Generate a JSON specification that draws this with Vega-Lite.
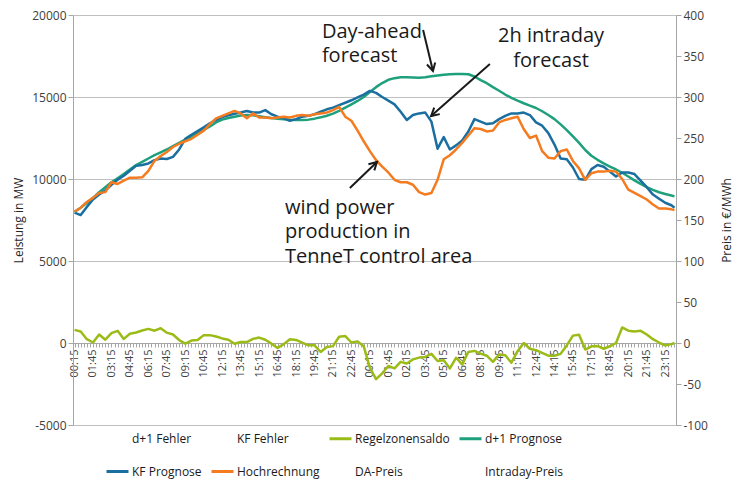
{
  "$schema": "https://vega.github.io/schema/vega-lite/v6.json",
  "width": 603,
  "height": 410,
  "autosize": "none",
  "padding": {"left": 73, "top": 15, "right": 58, "bottom": 57},
  "config": {
    "font": "Open Sans",
    "view": {"stroke": null},
    "axis": {"labelColor": "#404040", "titleColor": "#262626", "titleFontWeight": "normal", "domainColor": "#A6A6A6", "tickColor": "#A6A6A6"},
    "axisX": {"labelOverlap": false, "labelFlush": false, "labelBound": false}
  },
  "layer": [
    {
      "layer": [
        {
          "data": {"values": [
            {"i":0,"d+1 Prognose":8000,"KF Prognose":7950,"Hochrechnung":8000,"Regelzonensaldo":800},
            {"i":2,"d+1 Prognose":8250,"KF Prognose":7800,"Hochrechnung":8250,"Regelzonensaldo":700},
            {"i":4,"d+1 Prognose":8550,"KF Prognose":8300,"Hochrechnung":8600,"Regelzonensaldo":230},
            {"i":6,"d+1 Prognose":8850,"KF Prognose":8750,"Hochrechnung":8850,"Regelzonensaldo":30},
            {"i":8,"d+1 Prognose":9200,"KF Prognose":9050,"Hochrechnung":9150,"Regelzonensaldo":520},
            {"i":10,"d+1 Prognose":9500,"KF Prognose":9300,"Hochrechnung":9200,"Regelzonensaldo":200},
            {"i":12,"d+1 Prognose":9800,"KF Prognose":9650,"Hochrechnung":9800,"Regelzonensaldo":600},
            {"i":14,"d+1 Prognose":10050,"KF Prognose":9950,"Hochrechnung":9700,"Regelzonensaldo":740},
            {"i":16,"d+1 Prognose":10300,"KF Prognose":10200,"Hochrechnung":9900,"Regelzonensaldo":250},
            {"i":18,"d+1 Prognose":10580,"KF Prognose":10500,"Hochrechnung":10080,"Regelzonensaldo":560},
            {"i":20,"d+1 Prognose":10850,"KF Prognose":10800,"Hochrechnung":10080,"Regelzonensaldo":640},
            {"i":22,"d+1 Prognose":11050,"KF Prognose":10850,"Hochrechnung":10100,"Regelzonensaldo":760},
            {"i":24,"d+1 Prognose":11250,"KF Prognose":10950,"Hochrechnung":10500,"Regelzonensaldo":860},
            {"i":26,"d+1 Prognose":11450,"KF Prognose":11150,"Hochrechnung":11100,"Regelzonensaldo":750},
            {"i":28,"d+1 Prognose":11620,"KF Prognose":11250,"Hochrechnung":11400,"Regelzonensaldo":900},
            {"i":30,"d+1 Prognose":11800,"KF Prognose":11220,"Hochrechnung":11650,"Regelzonensaldo":630},
            {"i":32,"d+1 Prognose":12000,"KF Prognose":11350,"Hochrechnung":11950,"Regelzonensaldo":520},
            {"i":34,"d+1 Prognose":12200,"KF Prognose":11800,"Hochrechnung":12150,"Regelzonensaldo":180},
            {"i":36,"d+1 Prognose":12400,"KF Prognose":12450,"Hochrechnung":12300,"Regelzonensaldo":-40},
            {"i":38,"d+1 Prognose":12600,"KF Prognose":12700,"Hochrechnung":12450,"Regelzonensaldo":150},
            {"i":40,"d+1 Prognose":12800,"KF Prognose":12920,"Hochrechnung":12700,"Regelzonensaldo":180},
            {"i":42,"d+1 Prognose":13000,"KF Prognose":13150,"Hochrechnung":12950,"Regelzonensaldo":480},
            {"i":44,"d+1 Prognose":13200,"KF Prognose":13400,"Hochrechnung":13350,"Regelzonensaldo":480},
            {"i":46,"d+1 Prognose":13450,"KF Prognose":13600,"Hochrechnung":13700,"Regelzonensaldo":400},
            {"i":48,"d+1 Prognose":13620,"KF Prognose":13780,"Hochrechnung":13850,"Regelzonensaldo":280},
            {"i":50,"d+1 Prognose":13720,"KF Prognose":13880,"Hochrechnung":14000,"Regelzonensaldo":200},
            {"i":52,"d+1 Prognose":13800,"KF Prognose":13980,"Hochrechnung":14150,"Regelzonensaldo":-50},
            {"i":54,"d+1 Prognose":13870,"KF Prognose":14050,"Hochrechnung":14000,"Regelzonensaldo":60},
            {"i":56,"d+1 Prognose":13900,"KF Prognose":14150,"Hochrechnung":13700,"Regelzonensaldo":60},
            {"i":58,"d+1 Prognose":13880,"KF Prognose":14050,"Hochrechnung":14000,"Regelzonensaldo":250},
            {"i":60,"d+1 Prognose":13830,"KF Prognose":14050,"Hochrechnung":13750,"Regelzonensaldo":330},
            {"i":62,"d+1 Prognose":13770,"KF Prognose":14200,"Hochrechnung":13750,"Regelzonensaldo":200},
            {"i":64,"d+1 Prognose":13720,"KF Prognose":13950,"Hochrechnung":13700,"Regelzonensaldo":-40},
            {"i":66,"d+1 Prognose":13680,"KF Prognose":13800,"Hochrechnung":13750,"Regelzonensaldo":-300},
            {"i":68,"d+1 Prognose":13640,"KF Prognose":13700,"Hochrechnung":13800,"Regelzonensaldo":-70},
            {"i":70,"d+1 Prognose":13610,"KF Prognose":13550,"Hochrechnung":13750,"Regelzonensaldo":230},
            {"i":72,"d+1 Prognose":13600,"KF Prognose":13650,"Hochrechnung":13850,"Regelzonensaldo":190},
            {"i":74,"d+1 Prognose":13600,"KF Prognose":13800,"Hochrechnung":13900,"Regelzonensaldo":20},
            {"i":76,"d+1 Prognose":13620,"KF Prognose":13850,"Hochrechnung":13850,"Regelzonensaldo":-140},
            {"i":78,"d+1 Prognose":13680,"KF Prognose":13950,"Hochrechnung":13950,"Regelzonensaldo":-140},
            {"i":80,"d+1 Prognose":13760,"KF Prognose":14100,"Hochrechnung":14000,"Regelzonensaldo":-550},
            {"i":82,"d+1 Prognose":13860,"KF Prognose":14250,"Hochrechnung":14050,"Regelzonensaldo":-250},
            {"i":84,"d+1 Prognose":13990,"KF Prognose":14350,"Hochrechnung":14200,"Regelzonensaldo":-190},
            {"i":86,"d+1 Prognose":14150,"KF Prognose":14500,"Hochrechnung":14400,"Regelzonensaldo":380},
            {"i":88,"d+1 Prognose":14350,"KF Prognose":14650,"Hochrechnung":13800,"Regelzonensaldo":420},
            {"i":90,"d+1 Prognose":14550,"KF Prognose":14800,"Hochrechnung":13550,"Regelzonensaldo":30},
            {"i":92,"d+1 Prognose":14760,"KF Prognose":14980,"Hochrechnung":12950,"Regelzonensaldo":100},
            {"i":94,"d+1 Prognose":15000,"KF Prognose":15150,"Hochrechnung":12300,"Regelzonensaldo":-200},
            {"i":96,"d+1 Prognose":15300,"KF Prognose":15370,"Hochrechnung":11700,"Regelzonensaldo":-1500},
            {"i":98,"d+1 Prognose":15600,"KF Prognose":15250,"Hochrechnung":11150,"Regelzonensaldo":-2200},
            {"i":100,"d+1 Prognose":15850,"KF Prognose":15000,"Hochrechnung":10750,"Regelzonensaldo":-1850},
            {"i":102,"d+1 Prognose":16050,"KF Prognose":14780,"Hochrechnung":10400,"Regelzonensaldo":-1400},
            {"i":104,"d+1 Prognose":16150,"KF Prognose":14550,"Hochrechnung":9950,"Regelzonensaldo":-1550},
            {"i":106,"d+1 Prognose":16200,"KF Prognose":14100,"Hochrechnung":9800,"Regelzonensaldo":-1150},
            {"i":108,"d+1 Prognose":16200,"KF Prognose":13600,"Hochrechnung":9800,"Regelzonensaldo":-1250},
            {"i":110,"d+1 Prognose":16190,"KF Prognose":13900,"Hochrechnung":9650,"Regelzonensaldo":-1000},
            {"i":112,"d+1 Prognose":16180,"KF Prognose":14000,"Hochrechnung":9200,"Regelzonensaldo":-890},
            {"i":114,"d+1 Prognose":16200,"KF Prognose":14050,"Hochrechnung":9050,"Regelzonensaldo":-850},
            {"i":116,"d+1 Prognose":16260,"KF Prognose":13500,"Hochrechnung":9150,"Regelzonensaldo":-660},
            {"i":118,"d+1 Prognose":16310,"KF Prognose":11850,"Hochrechnung":9950,"Regelzonensaldo":-1100},
            {"i":120,"d+1 Prognose":16350,"KF Prognose":12550,"Hochrechnung":11200,"Regelzonensaldo":-1050},
            {"i":122,"d+1 Prognose":16390,"KF Prognose":11800,"Hochrechnung":11450,"Regelzonensaldo":-1550},
            {"i":124,"d+1 Prognose":16400,"KF Prognose":12050,"Hochrechnung":11800,"Regelzonensaldo":-900},
            {"i":126,"d+1 Prognose":16400,"KF Prognose":12350,"Hochrechnung":12200,"Regelzonensaldo":-1300},
            {"i":128,"d+1 Prognose":16390,"KF Prognose":12900,"Hochrechnung":12650,"Regelzonensaldo":-550},
            {"i":130,"d+1 Prognose":16250,"KF Prognose":13650,"Hochrechnung":13100,"Regelzonensaldo":-480},
            {"i":132,"d+1 Prognose":16030,"KF Prognose":13500,"Hochrechnung":13050,"Regelzonensaldo":-650},
            {"i":134,"d+1 Prognose":15840,"KF Prognose":13350,"Hochrechnung":12900,"Regelzonensaldo":-775},
            {"i":136,"d+1 Prognose":15600,"KF Prognose":13400,"Hochrechnung":12950,"Regelzonensaldo":-1150},
            {"i":138,"d+1 Prognose":15380,"KF Prognose":13650,"Hochrechnung":13450,"Regelzonensaldo":-700},
            {"i":140,"d+1 Prognose":15150,"KF Prognose":13850,"Hochrechnung":13600,"Regelzonensaldo":-750},
            {"i":142,"d+1 Prognose":14950,"KF Prognose":14000,"Hochrechnung":13700,"Regelzonensaldo":-1200},
            {"i":144,"d+1 Prognose":14780,"KF Prognose":14000,"Hochrechnung":13800,"Regelzonensaldo":-500},
            {"i":146,"d+1 Prognose":14620,"KF Prognose":14050,"Hochrechnung":13050,"Regelzonensaldo":0},
            {"i":148,"d+1 Prognose":14470,"KF Prognose":13900,"Hochrechnung":12500,"Regelzonensaldo":-350},
            {"i":150,"d+1 Prognose":14330,"KF Prognose":13450,"Hochrechnung":12650,"Regelzonensaldo":-440},
            {"i":152,"d+1 Prognose":14130,"KF Prognose":13250,"Hochrechnung":11700,"Regelzonensaldo":-600},
            {"i":154,"d+1 Prognose":13900,"KF Prognose":12800,"Hochrechnung":11300,"Regelzonensaldo":-775},
            {"i":156,"d+1 Prognose":13650,"KF Prognose":12100,"Hochrechnung":11250,"Regelzonensaldo":-775},
            {"i":158,"d+1 Prognose":13330,"KF Prognose":11250,"Hochrechnung":11700,"Regelzonensaldo":-660},
            {"i":160,"d+1 Prognose":12980,"KF Prognose":11200,"Hochrechnung":11800,"Regelzonensaldo":-150},
            {"i":162,"d+1 Prognose":12600,"KF Prognose":10700,"Hochrechnung":11100,"Regelzonensaldo":450},
            {"i":164,"d+1 Prognose":12200,"KF Prognose":10000,"Hochrechnung":10650,"Regelzonensaldo":500},
            {"i":166,"d+1 Prognose":11770,"KF Prognose":9950,"Hochrechnung":9950,"Regelzonensaldo":-400},
            {"i":168,"d+1 Prognose":11420,"KF Prognose":10600,"Hochrechnung":10350,"Regelzonensaldo":-200},
            {"i":170,"d+1 Prognose":11170,"KF Prognose":10850,"Hochrechnung":10450,"Regelzonensaldo":-180},
            {"i":172,"d+1 Prognose":10950,"KF Prognose":10750,"Hochrechnung":10450,"Regelzonensaldo":-350},
            {"i":174,"d+1 Prognose":10760,"KF Prognose":10450,"Hochrechnung":10500,"Regelzonensaldo":-200},
            {"i":176,"d+1 Prognose":10580,"KF Prognose":10150,"Hochrechnung":10450,"Regelzonensaldo":0},
            {"i":178,"d+1 Prognose":10380,"KF Prognose":10400,"Hochrechnung":10000,"Regelzonensaldo":950},
            {"i":180,"d+1 Prognose":10150,"KF Prognose":10400,"Hochrechnung":9350,"Regelzonensaldo":750},
            {"i":182,"d+1 Prognose":9920,"KF Prognose":10300,"Hochrechnung":9150,"Regelzonensaldo":700},
            {"i":184,"d+1 Prognose":9700,"KF Prognose":9900,"Hochrechnung":8950,"Regelzonensaldo":740},
            {"i":186,"d+1 Prognose":9500,"KF Prognose":9500,"Hochrechnung":8750,"Regelzonensaldo":520},
            {"i":188,"d+1 Prognose":9340,"KF Prognose":9050,"Hochrechnung":8450,"Regelzonensaldo":235},
            {"i":190,"d+1 Prognose":9190,"KF Prognose":8800,"Hochrechnung":8200,"Regelzonensaldo":30},
            {"i":192,"d+1 Prognose":9090,"KF Prognose":8550,"Hochrechnung":8200,"Regelzonensaldo":-150},
            {"i":194,"d+1 Prognose":8990,"KF Prognose":8400,"Hochrechnung":8150,"Regelzonensaldo":-70},
            {"i":195,"d+1 Prognose":8940,"KF Prognose":8250,"Hochrechnung":8100,"Regelzonensaldo":0}
          ]},
          "transform": [{"fold": ["Regelzonensaldo", "d+1 Prognose", "KF Prognose", "Hochrechnung"], "as": ["Serie", "MW"]}],
          "mark": {"type": "line", "strokeWidth": 2.5, "strokeJoin": "round"},
          "encoding": {
            "x": {
              "field": "i", "type": "quantitative",
              "scale": {"domain": [-0.5, 195.5], "nice": false, "zero": false},
              "axis": {
                "title": null,
                "values": [0,1,2,3,4,5,6,7,8,9,10,11,12,13,14,15,16,17,18,19,20,21,22,23,24,25,26,27,28,29,30,31,32,33,34,35,36,37,38,39,40,41,42,43,44,45,46,47,48,49,50,51,52,53,54,55,56,57,58,59,60,61,62,63,64,65,66,67,68,69,70,71,72,73,74,75,76,77,78,79,80,81,82,83,84,85,86,87,88,89,90,91,92,93,94,95,96,97,98,99,100,101,102,103,104,105,106,107,108,109,110,111,112,113,114,115,116,117,118,119,120,121,122,123,124,125,126,127,128,129,130,131,132,133,134,135,136,137,138,139,140,141,142,143,144,145,146,147,148,149,150,151,152,153,154,155,156,157,158,159,160,161,162,163,164,165,166,167,168,169,170,171,172,173,174,175,176,177,178,179,180,181,182,183,184,185,186,187,188,189,190,191,192,193,194,195],
                "tickCount": 400,
                "labelExpr": "datum.value % 6 == 0 && datum.value <= 192 ? ['00:15','01:45','03:15','04:45','06:15','07:45','09:15','10:45','12:15','13:45','15:15','16:45','18:15','19:45','21:15','22:45','00:15','01:45','02:15','03:45','05:15','06:45','08:15','09:45','11:15','12:45','14:15','15:45','17:15','18:45','20:15','21:45','23:15'][datum.value / 6] : ''",
                "labelAngle": -90,
                "labelOverlap": false,
                "labelFlush": false,
                "labelBound": false,
                "labelFontSize": 11,
                "labelPadding": 2,
                "offset": -82,
                "tickSize": 4,
                "tickColor": "#A6A6A6",
                "grid": false
              }
            },
            "y": {
              "field": "MW", "type": "quantitative",
              "scale": {"domain": [-5000, 20000], "nice": false},
              "axis": {
                "title": "Leistung in MW",
                "values": [-5000, 0, 5000, 10000, 15000, 20000],
                "labelExpr": "'' + datum.value",
                "grid": true,
                "gridColor": "#BFBFBF",
                "tickSize": 5,
                "labelFontSize": 12,
                "titleFontSize": 12,
                "titlePadding": 6
              }
            },
            "color": {
              "field": "Serie", "type": "nominal",
              "scale": {
                "domain": ["d+1 Fehler", "KF Fehler", "Regelzonensaldo", "d+1 Prognose", "KF Prognose", "Hochrechnung", "DA-Preis", "Intraday-Preis"],
                "range": ["#FFFFFF", "#FFFFFF", "#9BBB17", "#1FA07C", "#1B6FA0", "#F47B20", "#FFFFFF", "#FFFFFF"]
              },
              "legend": {
                "orient": "none", "legendX": 32, "legendY": 411,
                "direction": "horizontal", "columns": 4, "title": null,
                "symbolType": "stroke", "symbolSize": 484, "symbolStrokeWidth": 3,
                "labelFontSize": 12, "labelColor": "#1a1a1a", "labelOffset": 2, "labelLimit": 200,
                "rowPadding": 14, "columnPadding": 3
              }
            }
          }
        },
        {
          "data": {"values": [
            {"x": 80.4, "y": 18600, "t": "Day-ahead\nforecast"},
            {"x": 68.4, "y": 7870, "t": "wind power\nproduction in\nTenneT control area"}
          ]},
          "mark": {"type": "text", "align": "left", "baseline": "alphabetic", "fontSize": 20, "lineHeight": 24.5, "lineBreak": "\n", "color": "#1a1a1a"},
          "encoding": {
            "x": {"field": "x", "type": "quantitative", "scale": {"domain": [-0.5, 195.5], "nice": false, "zero": false}},
            "y": {"field": "y", "type": "quantitative", "scale": {"domain": [-5000, 20000], "nice": false}},
            "text": {"field": "t"}
          }
        },
        {
          "data": {"values": [
            {"x": 154.9, "y": 18330, "t": "2h intraday\nforecast"}
          ]},
          "mark": {"type": "text", "align": "center", "baseline": "alphabetic", "fontSize": 20, "lineHeight": 25, "lineBreak": "\n", "color": "#1a1a1a"},
          "encoding": {
            "x": {"field": "x", "type": "quantitative", "scale": {"domain": [-0.5, 195.5], "nice": false, "zero": false}},
            "y": {"field": "y", "type": "quantitative", "scale": {"domain": [-5000, 20000], "nice": false}},
            "text": {"field": "t"}
          }
        },
        {
          "data": {"values": [
            {"a": 1, "x": 113.3, "y": 19085, "x2": 116.5, "y2": 16585},
            {"a": 2, "x": 135.0, "y": 17010, "x2": 115.9, "y2": 13840},
            {"a": 3, "x": 89.5, "y": 9450, "x2": 98.3, "y2": 11040}
          ]},
          "layer": [
            {
              "mark": {"type": "rule", "strokeWidth": 2, "color": "#1a1a1a"},
              "encoding": {
                "x": {"field": "x", "type": "quantitative", "scale": {"domain": [-0.5, 195.5], "nice": false, "zero": false}},
                "y": {"field": "y", "type": "quantitative", "scale": {"domain": [-5000, 20000], "nice": false}},
                "x2": {"field": "x2"},
                "y2": {"field": "y2"}
              }
            },
            {
              "transform": [{"filter": "datum.a == 1"}],
              "mark": {"type": "point", "shape": "M-0.6,1.1L0,0L0.6,1.1", "angle": 166, "size": 200, "filled": false, "stroke": "#1a1a1a", "strokeWidth": 2, "opacity": 1},
              "encoding": {
                "x": {"field": "x2", "type": "quantitative", "scale": {"domain": [-0.5, 195.5], "nice": false, "zero": false}},
                "y": {"field": "y2", "type": "quantitative", "scale": {"domain": [-5000, 20000], "nice": false}}
              }
            },
            {
              "transform": [{"filter": "datum.a == 2"}],
              "mark": {"type": "point", "shape": "M-0.6,1.1L0,0L0.6,1.1", "angle": 229, "size": 200, "filled": false, "stroke": "#1a1a1a", "strokeWidth": 2, "opacity": 1},
              "encoding": {
                "x": {"field": "x2", "type": "quantitative", "scale": {"domain": [-0.5, 195.5], "nice": false, "zero": false}},
                "y": {"field": "y2", "type": "quantitative", "scale": {"domain": [-5000, 20000], "nice": false}}
              }
            },
            {
              "transform": [{"filter": "datum.a == 3"}],
              "mark": {"type": "point", "shape": "M-0.6,1.1L0,0L0.6,1.1", "angle": 46, "size": 200, "filled": false, "stroke": "#1a1a1a", "strokeWidth": 2, "opacity": 1},
              "encoding": {
                "x": {"field": "x2", "type": "quantitative", "scale": {"domain": [-0.5, 195.5], "nice": false, "zero": false}},
                "y": {"field": "y2", "type": "quantitative", "scale": {"domain": [-5000, 20000], "nice": false}}
              }
            }
          ]
        }
      ]
    },
    {
      "mark": {"type": "rule", "opacity": 0},
      "encoding": {
        "y": {
          "datum": 0, "type": "quantitative",
          "scale": {"domain": [-100, 400], "nice": false},
          "axis": {
            "orient": "right",
            "title": "Preis in €/MWh",
            "values": [-100, -50, 0, 50, 100, 150, 200, 250, 300, 350, 400],
            "labelExpr": "'' + datum.value",
            "grid": false,
            "tickSize": 5,
            "labelFontSize": 12,
            "titleFontSize": 12,
            "titleAngle": 270,
            "titlePadding": 26
          }
        }
      }
    }
  ],
  "resolve": {"scale": {"y": "independent"}}
}
